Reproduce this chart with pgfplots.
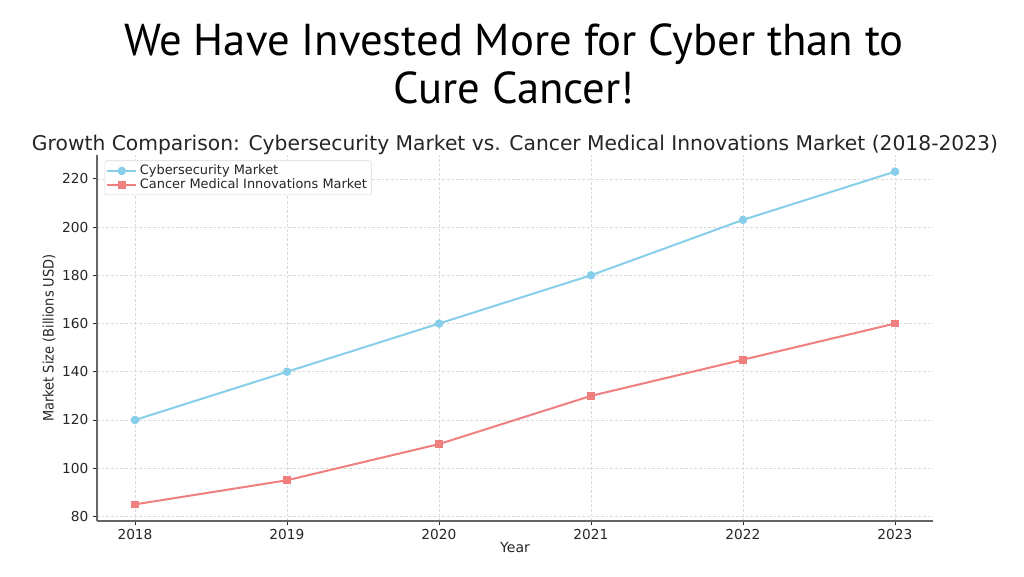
\documentclass[border=0pt]{standalone}
\usepackage{pgfplots}
\pgfplotsset{compat=1.18}
\usepackage{fontspec}
\setmainfont{DejaVu Sans}
\newfontfamily\titlefont{PT Sans}
\newfontfamily\condfont{DejaVu Sans Condensed}
\definecolor{cyber}{RGB}{135,206,235}
\definecolor{cancer}{RGB}{240,128,128}
\definecolor{txt}{RGB}{38,38,38}
\begin{document}
\begin{tikzpicture}
\useasboundingbox[fill=white] (0pt,0pt) rectangle (768pt,432pt);
\node[font=\titlefont\fontsize{33.5}{37.5}\selectfont, align=center, text=black] at (385.5pt,384pt) {We Have Invested More for Cyber than to\\[-1pt] Cure Cancer!};
\node[font=\fontsize{15.2}{17}\selectfont, text=txt] at (386.25pt,323pt) {Growth Comparison: Cybersecurity Market vs. Cancer Medical Innovations Market (2018-2023)};
\begin{axis}[
  at={(72.75pt,41.25pt)}, anchor=south west,
  scale only axis, width=627pt, height=274.5pt,
  xmin=2017.75, xmax=2023.25, ymin=78.1, ymax=229.9,
  axis x line*=bottom, axis y line*=left,
  axis line style={draw=gray!80!black, line width=1pt, -},
  xtick={2018,...,2023}, ytick={80,100,...,220},
  x tick label style={/pgf/number format/1000 sep=},
  /pgf/number format/assume math mode=true,
  tick label style={font=\fontsize{10.3}{12}\selectfont, text=txt},
  tick style={draw=txt, line width=0.6pt},
  tick align=outside, major tick length=3pt,
  grid=major, major grid style={dash pattern=on 2pt off 1.5pt, draw=gray!30, line width=0.5pt},
  xlabel={Year}, ylabel={\condfont Market Size (Billions USD)},
  xlabel style={font=\fontsize{10.5}{12}\selectfont, text=txt, yshift=5pt},
  ylabel style={font=\fontsize{10.8}{12}\selectfont, text=txt, yshift=-2pt},
  legend style={at={(0.009,0.985)}, anchor=north west, font=\fontsize{9.7}{10.5}\selectfont, text=txt, draw=gray!30, rounded corners=1.5pt, inner sep=1.2pt, row sep=-2.5pt},
  legend cell align=left,
  legend image code/.code={\draw[mark repeat=2,mark phase=2,#1] plot coordinates {(0cm,0cm) (0.38cm,0cm) (0.76cm,0cm)};},
]
\addplot[cyber, line width=1.5pt, mark=*, mark size=2.4pt] coordinates {(2018,120) (2019,140) (2020,160) (2021,180) (2022,203) (2023,223)};
\addlegendentry{Cybersecurity Market}
\addplot[cancer, line width=1.5pt, mark=square*, mark size=2.1pt] coordinates {(2018,85) (2019,95) (2020,110) (2021,130) (2022,145) (2023,160)};
\addlegendentry{Cancer Medical Innovations Market}
\end{axis}
\end{tikzpicture}
\end{document}
